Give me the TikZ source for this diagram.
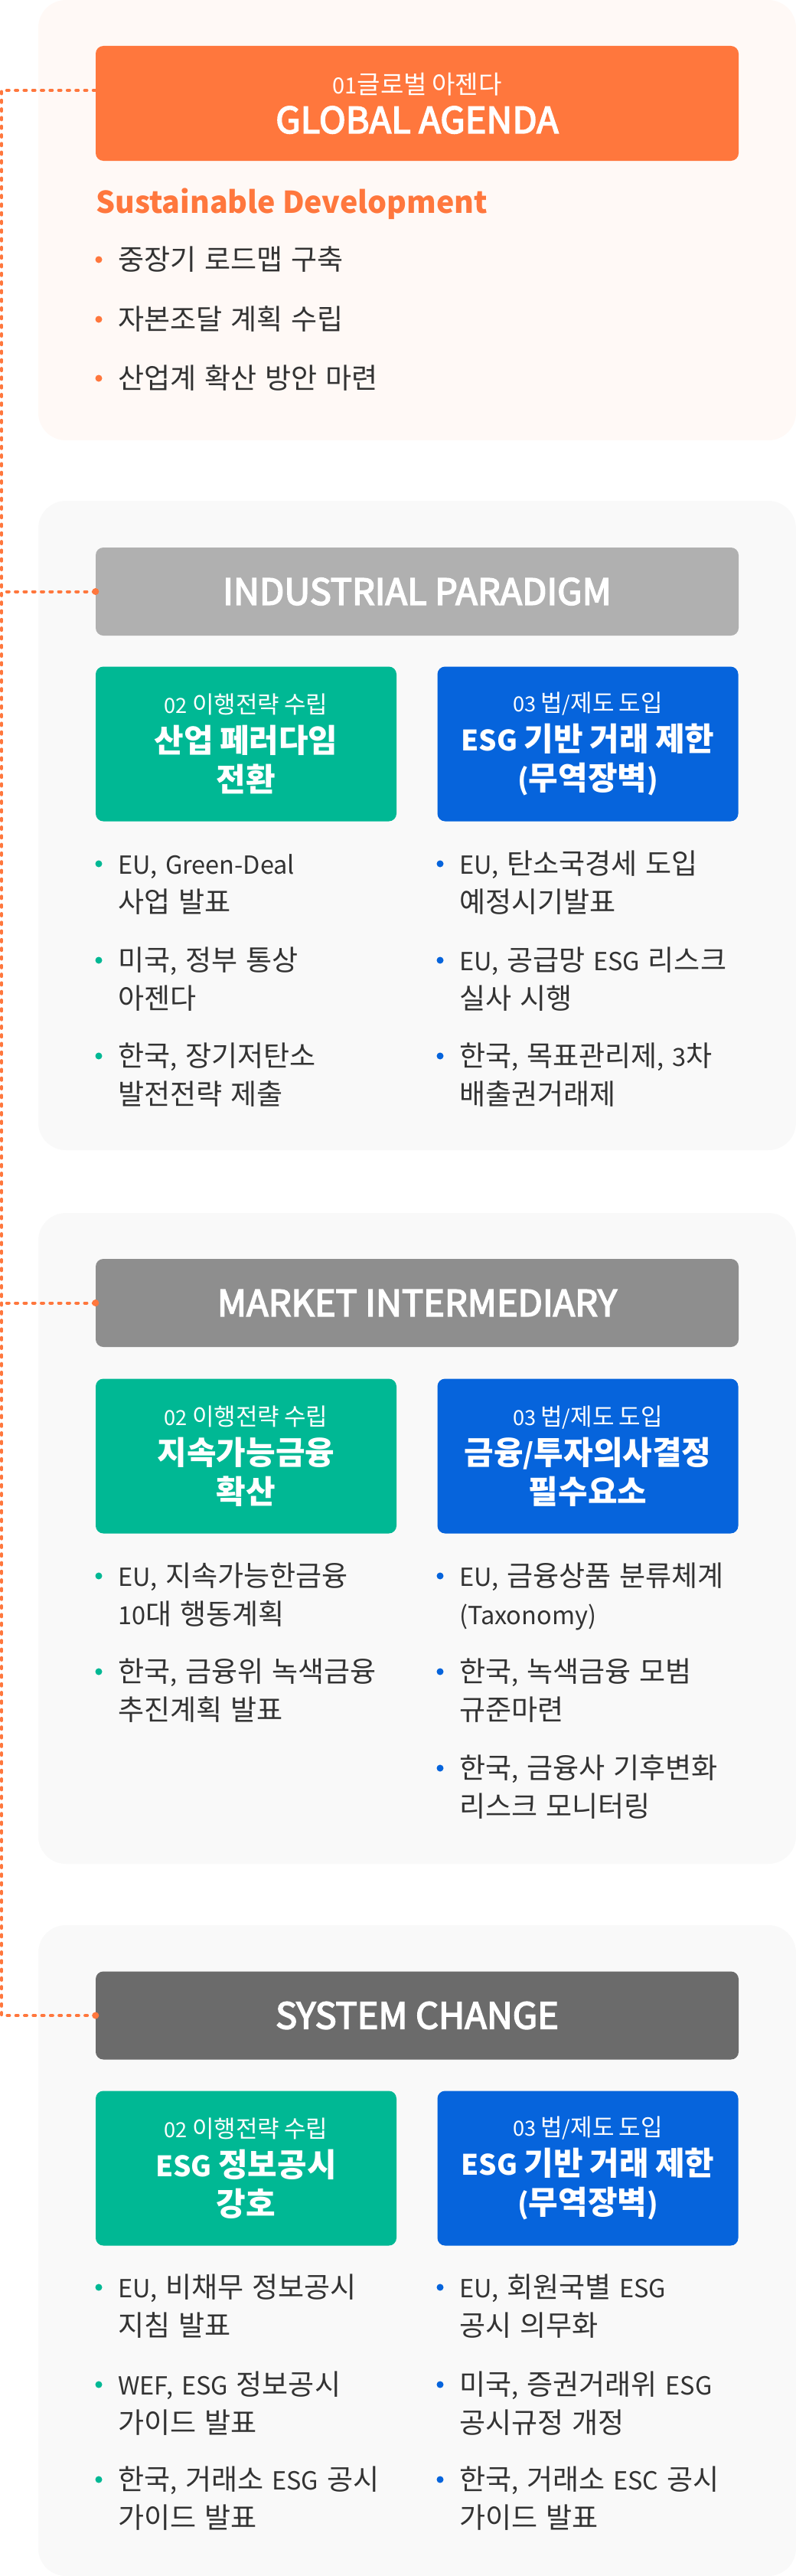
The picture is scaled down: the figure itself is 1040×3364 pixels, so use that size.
\documentclass[tikz,border=0pt]{standalone}
\usepackage{fontspec}
\setmainfont{Noto Sans CJK KR}
\newfontfamily\hgfont{Noto Sans CJK KR}[Scale=1.14]
\newfontfamily\hdrfont{Noto Sans CJK KR}[FakeBold=3.5]
\usetikzlibrary{positioning}
\definecolor{esgorange}{HTML}{FF773D}
\definecolor{peachbg}{HTML}{FFF9F6}
\definecolor{greybg}{HTML}{F9F9F9}
\definecolor{hdrlight}{HTML}{B0B0B0}
\definecolor{hdrmid}{HTML}{8E8E8E}
\definecolor{hdrdark}{HTML}{6B6B6B}
\definecolor{esggreen}{HTML}{00B894}
\definecolor{esgblue}{HTML}{0664DC}
\definecolor{bodytext}{HTML}{333333}

% hangul a little larger than latin
\XeTeXinterchartokenstate=1
\newXeTeXintercharclass\hgclass
\newcount\hgcount
\hgcount="AC00
\loop
  \XeTeXcharclass\hgcount=\hgclass
  \ifnum\hgcount<"D7A3 \advance\hgcount by 1
\repeat
\XeTeXinterchartoks 0 \hgclass = {\begingroup\hgfont}
\XeTeXinterchartoks 4095 \hgclass = {\begingroup\hgfont}
\XeTeXinterchartoks \hgclass 0 = {\endgroup}
\XeTeXinterchartoks \hgclass 4095 = {\endgroup}

\newcommand\tagfont{\fontsize{27.2}{27}\selectfont\mdseries}
% one bullet item: name, x, y (middle of first line), dot colour, text
\newcommand\esgitem[5]{%
  \node[item] (#1) at (#2,#3-22) {\strut#5};
  \fill[#4] ([shift={(-25pt,-22pt)}]#1.north west) circle (4.5pt);
}

\begin{document}
\begin{tikzpicture}[
    x=1pt,y=-1pt,
    panel/.style={rounded corners=36pt},
    hdr/.style={rounded corners=10pt,minimum width=840pt,minimum height=115pt,
                inner sep=0pt,text=white,align=center,
                font=\fontsize{47}{51}\hdrfont},
    stratbox/.style={rounded corners=10pt,minimum width=393pt,minimum height=202pt,
                inner sep=0pt,text=white,align=center,
                font=\fontsize{36.8}{51}\selectfont\bfseries},
    item/.style={anchor=north west,inner sep=0pt,text width=400pt,align=left,
                 text=bodytext,font=\fontsize{32.5}{50}\selectfont},
    dotline/.style={esgorange,line width=4pt,line cap=round,dash pattern=on 3pt off 8.3pt}
  ]
    \useasboundingbox (0,0) rectangle (1040,3364);

    % panels
    \fill[peachbg,panel] (50,0) rectangle (1040,575);
    \fill[greybg,panel] (50,654) rectangle (1040,1502);
    \fill[greybg,panel] (50,1584) rectangle (1040,2434);
    \fill[greybg,panel] (50,2514) rectangle (1040,3364);

    % headers
    \node[hdr,fill=esgorange,minimum height=150pt] (ga) at (545,135)
      {{\normalfont\fontsize{29}{29}\selectfont 01글로벌 아젠다}\\GLOBAL AGENDA};
    \node[hdr,fill=hdrlight] (ip) at (545,772.5) {INDUSTRIAL PARADIGM};
    \node[hdr,fill=hdrmid] (mi) at (545,1701.5) {MARKET INTERMEDIARY};
    \node[hdr,fill=hdrdark] (sc) at (545,2632) {SYSTEM CHANGE};

    % dotted spine
    \coordinate (spinetop) at (2,118);
    \coordinate (spinebot) at (2,2632);
    \draw[dotline] ([yshift=17pt]ga.west) -- (spinetop) -- (spinebot) -- (sc.west);
    \draw[dotline] (ip.west) -- (ip.west -| spinetop);
    \draw[dotline] (mi.west) -- (mi.west -| spinetop);
    \foreach \h in {ip,mi,sc}
      \fill[esgorange] (\h.west) circle (4.5pt);

    % 01 global agenda
    \node[anchor=west,inner sep=0pt,text=esgorange,font=\fontsize{39.3}{48}\selectfont\bfseries]
      (sd) at (125,266) {Sustainable Development};
    \esgitem{ga1}{154}{339}{esgorange}{중장기 로드맵 구축}
    \esgitem{ga2}{154}{417}{esgorange}{자본조달 계획 수립}
    \esgitem{ga3}{154}{494}{esgorange}{산업계 확산 방안 마련}

    % industrial paradigm
    \node[stratbox,fill=esggreen] (ipl) at (321.5,971.5)
      {{\tagfont 02 이행전략 수립}\\산업 페러다임\\전환};
    \node[stratbox,fill=esgblue] (ipr) at (768,971.5)
      {{\tagfont 03 법/제도 도입}\\ESG 기반 거래 제한\\(무역장벽)};
    \esgitem{ipl1}{154}{1128}{esggreen}{EU, Green-Deal\\사업 발표}
    \esgitem{ipl2}{154}{1254}{esggreen}{미국, 정부 통상\\아젠다}
    \esgitem{ipl3}{154}{1379}{esggreen}{한국, 장기저탄소\\발전전략 제출}
    \esgitem{ipr1}{600}{1128}{esgblue}{EU, 탄소국경세 도입\\예정시기발표}
    \esgitem{ipr2}{600}{1254}{esgblue}{EU, 공급망 ESG 리스크\\실사 시행}
    \esgitem{ipr3}{600}{1379}{esgblue}{한국, 목표관리제, 3차\\배출권거래제}

    % market intermediary
    \node[stratbox,fill=esggreen] (mil) at (321.5,1901.5)
      {{\tagfont 02 이행전략 수립}\\지속가능금융\\확산};
    \node[stratbox,fill=esgblue] (mir) at (768,1901.5)
      {{\tagfont 03 법/제도 도입}\\금융/투자의사결정\\필수요소};
    \esgitem{mil1}{154}{2058}{esggreen}{EU, 지속가능한금융\\10대 행동계획}
    \esgitem{mil2}{154}{2183}{esggreen}{한국, 금융위 녹색금융\\추진계획 발표}
    \esgitem{mir1}{600}{2058}{esgblue}{EU, 금융상품 분류체계\\(Taxonomy)}
    \esgitem{mir2}{600}{2183}{esgblue}{한국, 녹색금융 모범\\규준마련}
    \esgitem{mir3}{600}{2309}{esgblue}{한국, 금융사 기후변화\\리스크 모니터링}

    % system change
    \node[stratbox,fill=esggreen] (scl) at (321.5,2831.5)
      {{\tagfont 02 이행전략 수립}\\ESG 정보공시\\강호};
    \node[stratbox,fill=esgblue] (scr) at (768,2831.5)
      {{\tagfont 03 법/제도 도입}\\ESG 기반 거래 제한\\(무역장벽)};
    \esgitem{scl1}{154}{2987}{esggreen}{EU, 비채무 정보공시\\지침 발표}
    \esgitem{scl2}{154}{3114}{esggreen}{WEF, ESG 정보공시\\가이드 발표}
    \esgitem{scl3}{154}{3238}{esggreen}{한국, 거래소 ESG 공시\\가이드 발표}
    \esgitem{scr1}{600}{2987}{esgblue}{EU, 회원국별 ESG\\공시 의무화}
    \esgitem{scr2}{600}{3114}{esgblue}{미국, 증권거래위 ESG\\공시규정 개정}
    \esgitem{scr3}{600}{3238}{esgblue}{한국, 거래소 ESC 공시\\가이드 발표}
  \end{tikzpicture}
\end{document}
